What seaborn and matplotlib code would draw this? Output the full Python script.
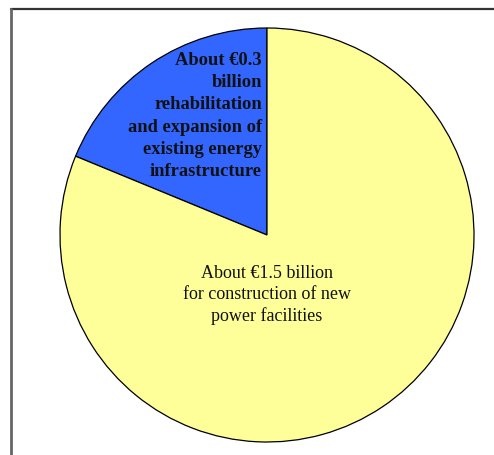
import matplotlib
matplotlib.use("Agg")
import matplotlib.pyplot as plt
from matplotlib.lines import Line2D
import seaborn as sns

# Investment split (billion EUR)
categories = ["rehabilitation and expansion of existing energy infrastructure",
              "construction of new power facilities"]
values = [0.34, 1.47]
colors = ["#3366FF", "#FFFF99"]

sns.set_theme(style="white")
plt.rcParams["font.family"] = ["Liberation Serif", "DejaVu Serif"]

fig = plt.figure(figsize=(4.94, 4.56), dpi=100)
fig.patch.set_facecolor("white")

# Open frame around the chart (top and left edges)
fig.add_artist(Line2D([11 / 494, 1.0], [1 - 9.5 / 456, 1 - 9.5 / 456],
                      transform=fig.transFigure, color="#333333", lw=1.6))
fig.add_artist(Line2D([11 / 494, 11 / 494], [0.0, 1 - 9.5 / 456],
                      transform=fig.transFigure, color="#666666", lw=2.0))

ax = fig.add_axes([60 / 494, 13 / 456, 414 / 494, 414 / 456])
ax.pie(values, colors=colors, startangle=90, counterclock=True,
       wedgeprops=dict(edgecolor="black", linewidth=0.9))
ax.set_xlim(-1, 1)
ax.set_ylim(-1, 1)
ax.set_aspect("equal")

small, large = values
ax.text(-0.024, 0.58,
        f"About €{small:.1f}\nbillion\nrehabilitation\nand expansion of\nexisting energy\ninfrastructure",
        ha="right", va="center", multialignment="right",
        fontsize=13.3, fontweight="bold", color="#111111", linespacing=1.4)
ax.text(0.0, -0.285,
        f"About €{large:.1f} billion\nfor construction of new\npower facilities",
        ha="center", va="center", multialignment="center",
        fontsize=13, color="#111111", linespacing=1.33)

fig.savefig("out.png", dpi=100)
